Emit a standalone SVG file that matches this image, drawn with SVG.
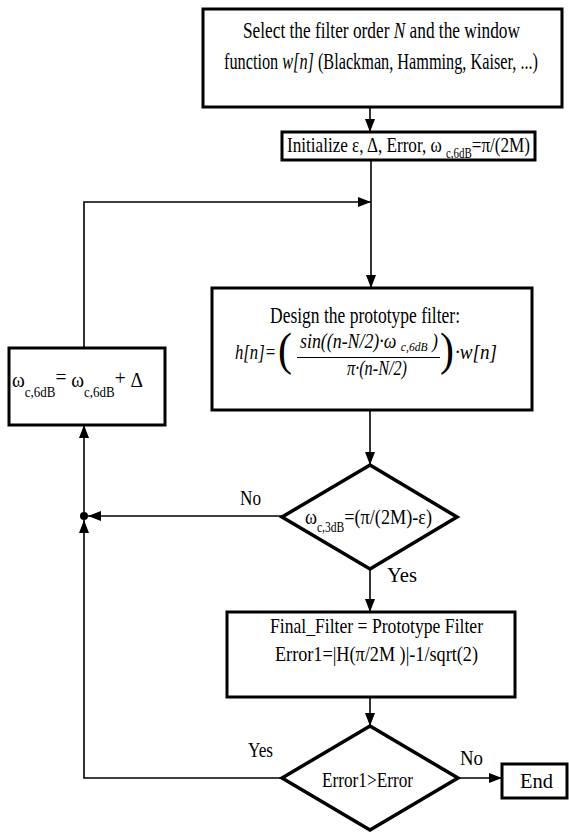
<svg xmlns="http://www.w3.org/2000/svg" width="569" height="832" viewBox="0 0 569 832" font-family="'Liberation Serif', 'Times New Roman', 'DejaVu Serif', serif">
<style>
.box{fill:#fff;stroke:#000;stroke-width:3}
.dia{fill:#fff;stroke:#000;stroke-width:3.5;stroke-linejoin:miter}
.con{fill:none;stroke:#000;stroke-width:1.6}
text{font-family:'Liberation Serif','Times New Roman','DejaVu Serif',serif;fill:#000;font-size:22px}
.i{font-style:italic}
.sub{font-size:14px}
</style>
<defs>
<marker id="ar" markerUnits="userSpaceOnUse" markerWidth="13" markerHeight="10" refX="13" refY="5" orient="auto">
<path d="M0,0 L13,5 L0,10 z" fill="#000"/>
</marker>
</defs>
<rect width="569" height="832" fill="#fff"/>
<g id="connectors">
<line class="con" x1="370" y1="107" x2="370" y2="132" marker-end="url(#ar)"/>
<line class="con" x1="371" y1="160" x2="371" y2="288" marker-end="url(#ar)"/>
<polyline class="con" points="84,348 84,202 371,202" marker-end="url(#ar)"/>
<line class="con" x1="370" y1="411" x2="370" y2="465" marker-end="url(#ar)"/>
<line class="con" x1="282" y1="516" x2="88" y2="516" marker-end="url(#ar)"/>
<line class="con" x1="84" y1="512" x2="84" y2="425" marker-end="url(#ar)"/>
<line class="con" x1="370" y1="569" x2="370" y2="612" marker-end="url(#ar)"/>
<line class="con" x1="370" y1="697" x2="370" y2="726" marker-end="url(#ar)"/>
<line class="con" x1="458" y1="778" x2="502" y2="778" marker-end="url(#ar)"/>
<polyline class="con" points="282,778 84,778 84,520" marker-end="url(#ar)"/>
<circle cx="84" cy="516" r="4" fill="#000"/>
<text x="240" y="505" textLength="21" lengthAdjust="spacingAndGlyphs" style="font-size:21px">No</text>
<text x="387" y="582" textLength="30" lengthAdjust="spacingAndGlyphs" style="font-size:21px">Yes</text>
<text x="248" y="757" textLength="25" lengthAdjust="spacingAndGlyphs" style="font-size:21px">Yes</text>
<text x="460" y="765" textLength="23" lengthAdjust="spacingAndGlyphs" style="font-size:21px">No</text>
</g>
<g id="select">
<rect class="box" x="203" y="9" width="359" height="98"/>
<text x="243" y="38" textLength="277" lengthAdjust="spacingAndGlyphs" style="font-size:24px">Select the filter order <tspan class="i">N</tspan> and the window</text>
<text x="224" y="69" textLength="314" lengthAdjust="spacingAndGlyphs" style="font-size:24px">function <tspan class="i">w[n]</tspan> (Blackman, Hamming, Kaiser, ...)</text>
</g>
<g id="init">
<rect class="box" x="282" y="132" width="253" height="28"/>
<text x="287" y="152" textLength="243" lengthAdjust="spacingAndGlyphs">Initialize ε, Δ, Error,  ω <tspan class="sub" dy="6">c,6dB</tspan><tspan dy="-6">=π/(2M)</tspan></text>
</g>
<g id="design">
<rect class="box" x="212" y="288" width="320" height="122"/>
<text x="270" y="323" textLength="190" lengthAdjust="spacingAndGlyphs" style="font-size:23px">Design the prototype filter:</text>
<text class="i" x="235" y="359" textLength="41" lengthAdjust="spacingAndGlyphs" style="font-size:21px">h[n]=</text>
<text x="278" y="365" textLength="14" lengthAdjust="spacingAndGlyphs" style="font-size:46px">(</text>
<text class="i" x="300" y="348" textLength="138" lengthAdjust="spacingAndGlyphs" style="font-size:20px">sin((n-N/2)·ω <tspan style="font-size:13px" dy="3">c,6dB</tspan><tspan dy="-3"> )</tspan></text>
<line x1="297" y1="357.5" x2="440" y2="357.5" stroke="#000" stroke-width="1.2"/>
<text class="i" x="347" y="375" textLength="60" lengthAdjust="spacingAndGlyphs" style="font-size:20px">π·(n-N/2)</text>
<text x="440" y="365" textLength="14" lengthAdjust="spacingAndGlyphs" style="font-size:46px">)</text>
<text class="i" x="455" y="359" textLength="42" lengthAdjust="spacingAndGlyphs" style="font-size:21px">·w[n]</text>
</g>
<g id="update">
<rect class="box" x="9" y="348" width="156" height="77"/>
<text x="12" y="387" textLength="131" lengthAdjust="spacingAndGlyphs" style="font-size:21px">ω<tspan class="sub" dy="10">c,6dB</tspan><tspan dy="-13">=</tspan><tspan dy="3"> ω</tspan><tspan class="sub" dy="10">c,6dB</tspan><tspan dy="-12">+</tspan><tspan dy="2"> Δ</tspan></text>
</g>
<g id="check3db">
<polygon class="dia" points="370,465 457,517 370,569 282,517"/>
<text x="305" y="524" textLength="127" lengthAdjust="spacingAndGlyphs">ω<tspan class="sub" dy="8">c,3dB</tspan><tspan dy="-8">=(π/(2M)-ε)</tspan></text>
</g>
<g id="final">
<rect class="box" x="227" y="612" width="288" height="85"/>
<text x="270" y="633" textLength="213" lengthAdjust="spacingAndGlyphs">Final_Filter = Prototype Filter</text>
<text x="275" y="661" textLength="203" lengthAdjust="spacingAndGlyphs">Error1=|H(π/2M )|-1/sqrt(2)</text>
</g>
<g id="checkerr">
<polygon class="dia" points="370,726 458,778 370,830 282,778"/>
<text x="322" y="787" textLength="91" lengthAdjust="spacingAndGlyphs">Error1&gt;Error</text>
</g>
<g id="end">
<rect class="box" x="502" y="764" width="65" height="34"/>
<text x="520" y="788" textLength="33" lengthAdjust="spacingAndGlyphs">End</text>
</g>
</svg>
